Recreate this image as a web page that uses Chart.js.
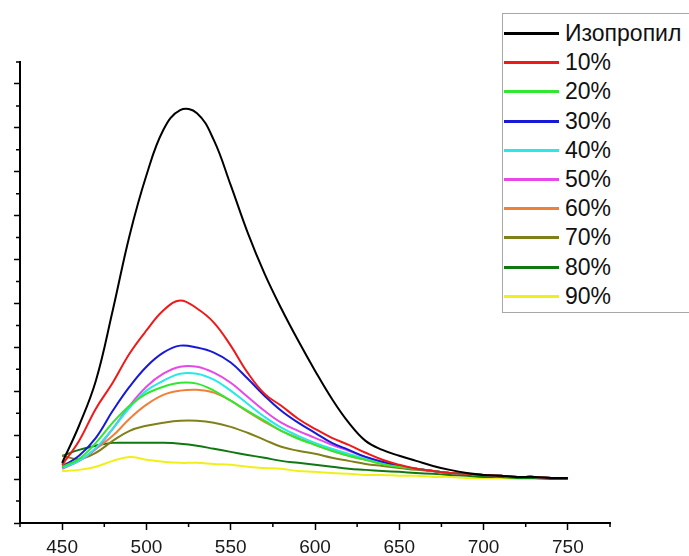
<!DOCTYPE html>
<html>
<head>
<meta charset="utf-8">
<script src="https://cdn.jsdelivr.net/npm/chart.js"></script>
<style>
  body { margin: 0; background: #fff; }
  #wrap { position: relative; width: 689px; height: 556px; overflow: hidden; }
  #legend {
    position: absolute; left: 502px; top: 13px; width: 200px; height: 298px;
    border: 1px solid #a8a8a8; background: #fff;
    font-family: "Liberation Sans", Arial, sans-serif; font-size: 23px; color: #111;
  }
  .row { position: absolute; left: 0; height: 29px; line-height: 29px; white-space: nowrap; }
  .row span.ln { position: absolute; left: 1px; top: 13px; width: 55px; height: 3px; }
  .row span.tx { position: absolute; left: 62px; top: 0; }
</style>
</head>
<body>
<div id="wrap">
  <canvas id="graph1" width="689" height="556"></canvas>
  <div id="legend"></div>
</div>
<script>
// wavelength, nm
const wavelengths = [450, 460, 470, 480, 490, 500, 510, 520, 530, 540, 550, 560, 570, 580, 590, 600,
  610, 620, 630, 640, 650, 660, 670, 680, 690, 700, 710, 720, 730, 740, 750];

// intensity, a.u.
const isopropyl = [274, 443, 648, 968, 1310, 1584, 1790, 1881, 1867, 1744, 1539, 1324, 1137, 977, 831, 694,
  566, 457, 374, 333, 306, 283, 260, 242, 228, 219, 215, 210, 210, 205, 205];
const p10 = [265, 374, 521, 639, 772, 877, 968, 1014, 977, 913, 808, 685, 589, 534, 475, 429,
  388, 356, 320, 288, 265, 247, 237, 228, 224, 219, 215, 210, 210, 205, 205];
const p20 = [256, 292, 365, 457, 534, 589, 621, 639, 635, 603, 557, 511, 466, 420, 384, 356,
  329, 306, 288, 269, 256, 247, 237, 228, 224, 219, 215, 210, 210, 205, 205];
const p30 = [256, 306, 388, 511, 621, 712, 776, 808, 799, 776, 731, 658, 580, 511, 457, 411,
  365, 333, 301, 279, 260, 247, 237, 228, 224, 219, 215, 210, 210, 205, 205];
const p40 = [251, 283, 342, 429, 525, 603, 648, 680, 680, 653, 603, 543, 484, 434, 397, 365,
  338, 315, 292, 274, 260, 247, 237, 228, 224, 219, 215, 210, 210, 205, 205];
const p50 = [247, 283, 338, 429, 534, 621, 680, 712, 712, 685, 639, 575, 511, 457, 420, 388,
  356, 329, 301, 279, 260, 247, 237, 228, 224, 219, 215, 210, 210, 205, 205];
const p60 = [269, 283, 338, 397, 475, 539, 584, 603, 607, 594, 557, 507, 461, 420, 388, 356,
  329, 306, 288, 269, 256, 247, 237, 228, 224, 219, 215, 210, 210, 205, 205];
const p70 = [306, 292, 320, 374, 420, 443, 457, 466, 466, 457, 438, 411, 379, 347, 329, 315,
  297, 283, 269, 260, 251, 242, 237, 228, 224, 219, 215, 210, 210, 205, 205];
const p80 = [306, 333, 352, 365, 365, 365, 365, 361, 352, 338, 324, 310, 297, 283, 274, 265,
  256, 247, 242, 237, 233, 228, 224, 219, 215, 210, 210, 205, 205, 201, 201];
const p90 = [237, 242, 256, 283, 301, 288, 279, 274, 274, 269, 265, 256, 251, 247, 237, 233,
  228, 224, 219, 219, 215, 215, 210, 210, 205, 205, 205, 201, 201, 201, 201];

const seriesNames = ["Изопропил", "10%", "20%", "30%", "40%", "50%", "60%", "70%", "80%", "90%"];
const seriesData = [isopropyl, p10, p20, p30, p40, p50, p60, p70, p80, p90];
const seriesColors = ["#000000", "#f01818", "#30e830", "#1818d8", "#28e8e8",
  "#e848e8", "#f08038", "#808018", "#107810", "#f0f018"];

const xTickLabels = [450, 500, 550, 600, 650, 700, 750];

// legend (html, sits over the plot like in the picture)
const legend = document.getElementById("legend");
seriesNames.forEach((name, i) => {
  const row = document.createElement("div");
  row.className = "row";
  row.style.top = (5 + i * 29.2) + "px";
  row.innerHTML = '<span class="ln" style="background:' + seriesColors[i] + '"></span><span class="tx">' + name + "</span>";
  legend.appendChild(row);
});

// minor tick marks, drawn through the scales
const minorTicks = {
  id: "minorTicks",
  afterDraw(chart) {
    const ctx = chart.ctx;
    const x = chart.scales.x;
    const y = chart.scales.y;
    ctx.save();
    ctx.strokeStyle = "#000";
    ctx.lineWidth = 1.5;
    ctx.beginPath();
    for (let v = 425; v <= 775; v += 50) {
      const px = x.getPixelForValue(v);
      ctx.moveTo(px, x.top);
      ctx.lineTo(px, x.top + 4);
    }
    for (let v = 100; v <= 2100; v += 200) {
      const py = y.getPixelForValue(v);
      ctx.moveTo(y.right, py);
      ctx.lineTo(y.right - 4, py);
    }
    ctx.stroke();
    ctx.restore();
  }
};

const ctx1 = document.getElementById("graph1").getContext("2d");
new Chart(ctx1, {
  type: "line",
  data: {
    datasets: seriesData.map((vals, i) => ({
      label: seriesNames[i],
      data: vals.map((v, j) => ({ x: wavelengths[j], y: v })),
      borderColor: seriesColors[i],
      borderWidth: 2,
      pointRadius: 0,
      fill: false,
      tension: 0.4,
    })),
  },
  options: {
    responsive: false,
    animation: false,
    layout: { padding: { left: 14, right: 79, top: 62, bottom: -9 } },
    plugins: { legend: { display: false }, tooltip: { enabled: false } },
    scales: {
      x: {
        type: "linear",
        min: 425,
        max: 775,
        border: { color: "#000", width: 2 },
        grid: {
          drawOnChartArea: false,
          tickLength: 7,
          tickWidth: 1.5,
          tickColor: c => (xTickLabels.includes(c.tick.value) ? "#000" : "rgba(0,0,0,0)"),
        },
        ticks: {
          stepSize: 25,
          autoSkip: false,
          maxRotation: 0,
          padding: 8,
          color: "#1a1a1a",
          font: { family: "Liberation Sans", size: 19, lineHeight: 1 },
          callback: v => (xTickLabels.includes(v) ? String(v) : ""),
        },
      },
      y: {
        min: 0,
        max: 2100,
        border: { color: "#000", width: 2 },
        grid: {
          drawOnChartArea: false,
          tickLength: 6,
          tickWidth: 1.5,
          tickColor: c => (c.tick.value % 200 === 0 ? "#000" : "rgba(0,0,0,0)"),
        },
        ticks: { stepSize: 100, display: false },
      },
    },
  },
  plugins: [minorTicks],
});
</script>
</body>
</html>
